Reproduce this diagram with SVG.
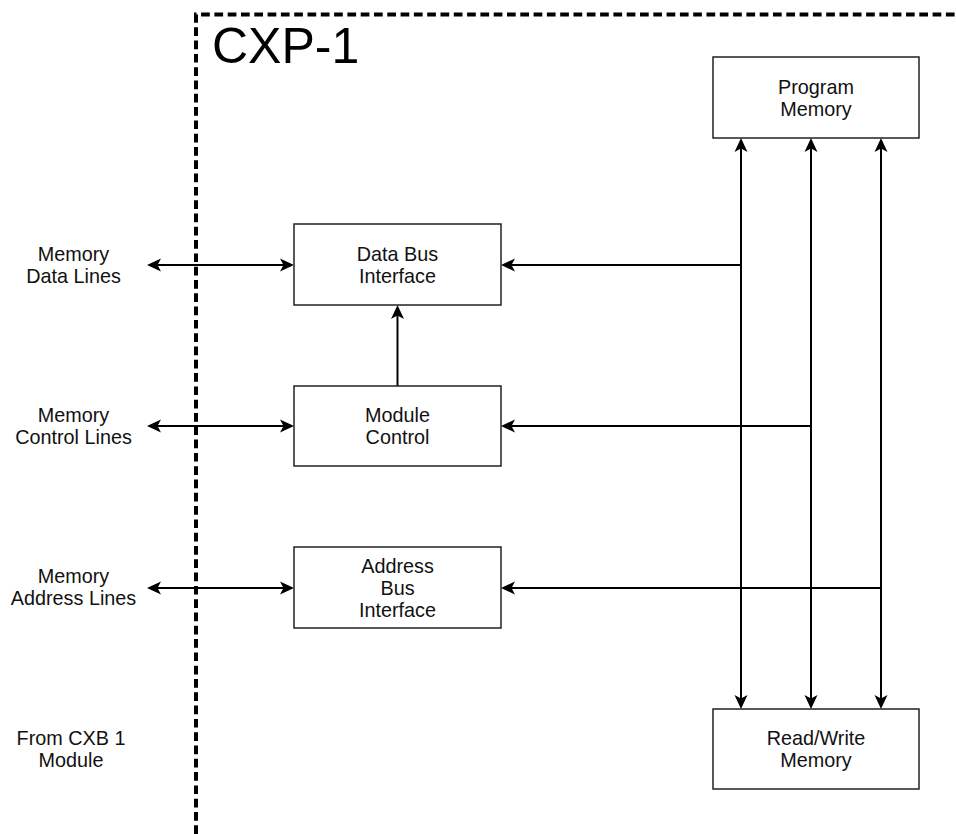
<svg xmlns="http://www.w3.org/2000/svg" width="956" height="834" viewBox="0 0 956 834">
<style>
.box{fill:#fff;stroke:#222;stroke-width:1.5}
.t{font-family:"Liberation Sans",Arial,sans-serif;font-size:19.8px;fill:#111;text-anchor:middle}
.c{fill:none;stroke:#000;stroke-width:2}
.border{fill:none;stroke:#000;stroke-width:4;stroke-dasharray:8.7 4.6}
</style>
<defs>
<marker id="ah" viewBox="0 -7 15 14" refX="4" refY="0" markerWidth="15" markerHeight="14" markerUnits="userSpaceOnUse" orient="auto-start-reverse">
<path d="M14,0 L0,-6.5 L3.5,0 L0,6.5 Z" fill="#000"/>
</marker>
</defs>
<rect width="956" height="834" fill="#fff"/>
<g id="boundary">
<path class="border" d="M196,834 L196,14.5 L956,14.5"/>
<text x="212" y="63" style="font-family:'Liberation Sans',Arial,sans-serif;font-size:50px;fill:#000">CXP-1</text>
</g>
<g id="connectors">
<path class="c" d="M157,265 H284" marker-start="url(#ah)" marker-end="url(#ah)"/>
<path class="c" d="M157,426 H284" marker-start="url(#ah)" marker-end="url(#ah)"/>
<path class="c" d="M157,588 H284" marker-start="url(#ah)" marker-end="url(#ah)"/>
<path class="c" d="M741,265 H511" marker-end="url(#ah)"/>
<path class="c" d="M811,426 H511" marker-end="url(#ah)"/>
<path class="c" d="M881,588 H511" marker-end="url(#ah)"/>
<path class="c" d="M397.5,386 V315" marker-end="url(#ah)"/>
<path class="c" d="M741,148 V699" marker-start="url(#ah)" marker-end="url(#ah)"/>
<path class="c" d="M811,148 V699" marker-start="url(#ah)" marker-end="url(#ah)"/>
<path class="c" d="M881,148 V699" marker-start="url(#ah)" marker-end="url(#ah)"/>
</g>
<g id="program-memory">
<rect class="box" x="713" y="57" width="206" height="81"/>
<text class="t" x="816" y="93.5">Program</text>
<text class="t" x="816" y="115.5">Memory</text>
</g>
<g id="read-write-memory">
<rect class="box" x="713" y="709" width="206" height="80"/>
<text class="t" x="816" y="745">Read/Write</text>
<text class="t" x="816" y="767">Memory</text>
</g>
<g id="data-bus-interface">
<rect class="box" x="294" y="224" width="207" height="81"/>
<text class="t" x="397.5" y="260.5">Data Bus</text>
<text class="t" x="397.5" y="282.5">Interface</text>
</g>
<g id="module-control">
<rect class="box" x="294" y="386" width="207" height="80"/>
<text class="t" x="397.5" y="422">Module</text>
<text class="t" x="397.5" y="444">Control</text>
</g>
<g id="address-bus-interface">
<rect class="box" x="294" y="547" width="207" height="81"/>
<text class="t" x="397.5" y="572.5">Address</text>
<text class="t" x="397.5" y="594.5">Bus</text>
<text class="t" x="397.5" y="616.5">Interface</text>
</g>
<g id="memory-data-lines">
<text class="t" x="73.5" y="260.5">Memory</text>
<text class="t" x="73.5" y="282.5">Data Lines</text>
</g>
<g id="memory-control-lines">
<text class="t" x="73.5" y="422">Memory</text>
<text class="t" x="73.5" y="444">Control Lines</text>
</g>
<g id="memory-address-lines">
<text class="t" x="73.5" y="583">Memory</text>
<text class="t" x="73.5" y="605">Address Lines</text>
</g>
<g id="from-cxb1">
<text class="t" x="71" y="745">From CXB 1</text>
<text class="t" x="71" y="767">Module</text>
</g>
</svg>
